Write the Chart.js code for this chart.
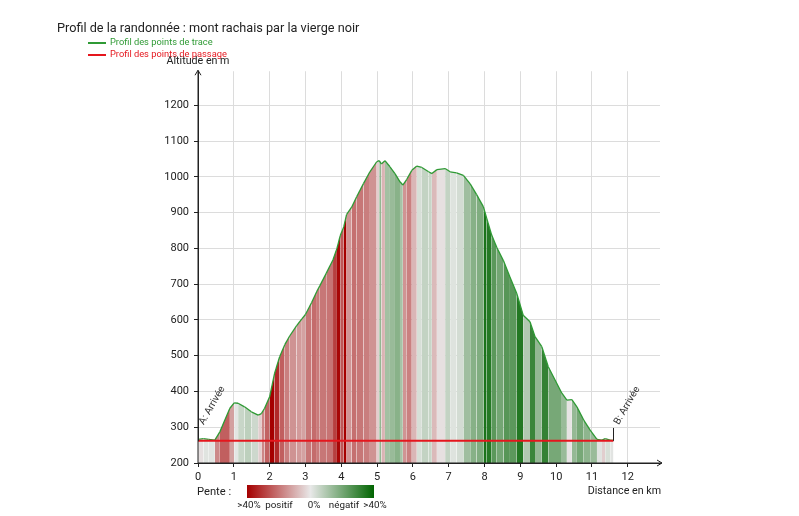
<!DOCTYPE html>
<html lang="fr">
<head>
<meta charset="utf-8">
<title>Profil de la randonnée</title>
<script src="https://cdn.jsdelivr.net/npm/chart.js@4.4.1/dist/chart.umd.min.js"></script>
<style>
  html, body { margin: 0; padding: 0; background: #fff; }
  #profil { display: block; }
</style>
</head>
<body>
<canvas id="profil" width="799" height="516"></canvas>
<script>
// Profil altimétrique de la randonnée

// =====================================================
// DONNÉES
// =====================================================
const distancesKm = [
  0.00, 0.15, 0.30, 0.47, 0.61, 0.75, 0.89, 1.01, 1.12, 1.30,
  1.49, 1.68, 1.77, 1.86, 2.00, 2.14, 2.28, 2.42, 2.56, 2.75,
  2.90, 3.00, 3.17, 3.32, 3.40, 3.58, 3.77, 3.88, 3.97, 4.07,
  4.15, 4.29, 4.43, 4.62, 4.80, 4.99, 5.06, 5.12, 5.22, 5.36,
  5.50, 5.64, 5.72, 5.83, 5.97, 6.11, 6.25, 6.44, 6.53, 6.67,
  6.90, 7.04, 7.22, 7.41, 7.60, 7.78, 7.97, 8.06, 8.20, 8.34,
  8.53, 8.71, 8.90, 9.08, 9.27, 9.41, 9.60, 9.78, 9.97, 10.16,
  10.30, 10.44, 10.58, 10.77, 10.95, 11.14, 11.28, 11.37, 11.51, 11.60,
];
const altitudesM = [
  266, 268, 266, 264, 287, 320, 353, 368, 367, 357,
  343, 334, 338, 353, 385, 451, 497, 530, 555, 583,
  603, 615, 648, 680, 695, 730, 768, 800, 835, 860,
  895, 915, 944, 981, 1014, 1042, 1045, 1036, 1045, 1028,
  1009, 986, 977, 993, 1018, 1030, 1026, 1014, 1009, 1020,
  1023, 1014, 1011, 1004, 980, 950, 916, 884, 837, 803,
  765, 720, 674, 613, 595, 553, 525, 469, 432, 395,
  376, 377, 357, 320, 292, 266, 264, 268, 264, 263,
];

// Points de passage : départ A et arrivée B
const passageKm = [0, 11.6];
const passageM = [262, 262];

const ticksX = [0, 1, 2, 3, 4, 5, 6, 7, 8, 9, 10, 11, 12];
const ticksY = [200, 300, 400, 500, 600, 700, 800, 900, 1000, 1100, 1200];
const bornesX = [0, 12.9];
const bornesY = [200, 1295];

const titre = 'Profil de la randonnée : mont rachais par la vierge noir';
const legendes = ['Profil des points de trace', 'Profil des points de passage'];
const reperes = ['A: Arrivée', 'B: Arrivée'];
const titresAxes = ['Altitude en m', 'Distance en km'];
const legendePente = ['>40%', 'positif', '0%', 'négatif', '>40%'];

// =====================================================
// COULEURS
// =====================================================
const VERT_TRACE = '#2f9a35';
const ROUGE_PASSAGE = '#e5161d';
const ROUGE_FONCE = [165, 0, 0];
const GRIS_NEUTRE = [232, 232, 232];
const VERT_FONCE = [0, 100, 0];
const PENTE_MAX = 40; // %

function melange(a, b, t) {
  const c = a.map((v, i) => Math.round(v + (b[i] - v) * t));
  return `rgb(${c[0]}, ${c[1]}, ${c[2]})`;
}

function couleurPente(pente) {
  const t = Math.min(Math.abs(pente) / PENTE_MAX, 1);
  return melange(GRIS_NEUTRE, pente >= 0 ? ROUGE_FONCE : VERT_FONCE, t);
}

// couleur d'un segment selon la pente entre ses deux points
function couleurSegment(ctx) {
  const dx = (ctx.p1.parsed.x - ctx.p0.parsed.x) * 1000;
  const dy = ctx.p1.parsed.y - ctx.p0.parsed.y;
  return couleurPente(dx > 0 ? (dy / dx) * 100 : 0);
}

// =====================================================
// DÉCOR : axes fléchés, légendes, repères, échelle de pente
// =====================================================
const decor = {
  id: 'decor',
  afterDraw(chart) {
    const { ctx, chartArea: a, scales: { x, y } } = chart;
    ctx.save();

    // axes + flèches
    ctx.strokeStyle = '#222';
    ctx.lineWidth = 1;
    ctx.beginPath();
    ctx.moveTo(a.left, a.bottom); ctx.lineTo(a.left, a.top - 1);
    ctx.moveTo(a.left - 3, a.top + 4); ctx.lineTo(a.left, a.top - 1); ctx.lineTo(a.left + 3, a.top + 4);
    ctx.moveTo(a.left, a.bottom); ctx.lineTo(a.right + 2, a.bottom);
    ctx.moveTo(a.right - 3, a.bottom - 3); ctx.lineTo(a.right + 2, a.bottom); ctx.lineTo(a.right - 3, a.bottom + 3);
    ctx.stroke();

    // légende des profils
    ctx.font = '9.3px Roboto';
    ctx.textBaseline = 'middle';
    ctx.textAlign = 'left';
    [[VERT_TRACE, 43], [ROUGE_PASSAGE, 55]].forEach(([couleur, ly], i) => {
      ctx.strokeStyle = couleur;
      ctx.lineWidth = 2;
      ctx.beginPath(); ctx.moveTo(88, ly); ctx.lineTo(106, ly); ctx.stroke();
      ctx.fillStyle = couleur;
      ctx.fillText(legendes[i], 110, ly);
    });

    // titres des axes
    ctx.fillStyle = '#222';
    ctx.font = '10.7px Roboto';
    ctx.textAlign = 'center';
    ctx.fillText(titresAxes[0], a.left, 61);
    ctx.textAlign = 'right';
    ctx.fillText(titresAxes[1], a.right + 1, 491);

    // repères A / B
    ctx.strokeStyle = '#222';
    ctx.lineWidth = 1;
    ctx.font = '10px Roboto';
    ctx.textAlign = 'left';
    passageKm.forEach((km, i) => {
      const px = Math.round(x.getPixelForValue(km)) + 0.5;
      const bas = y.getPixelForValue(passageM[i]);
      const haut = y.getPixelForValue(passageM[i] + 36);
      ctx.beginPath(); ctx.moveTo(px, bas); ctx.lineTo(px, haut); ctx.stroke();
      ctx.save();
      ctx.translate(px + 3, haut - 4);
      ctx.rotate(-Math.PI / 3);
      ctx.fillStyle = '#333';
      ctx.fillText(reperes[i], 0, 0);
      ctx.restore();
    });

    // échelle de pente
    ctx.fillStyle = '#222';
    ctx.font = '11.2px Roboto';
    ctx.fillText('Pente :', 197, 492);
    const g = ctx.createLinearGradient(247, 0, 374, 0);
    g.addColorStop(0, couleurPente(PENTE_MAX));
    g.addColorStop(0.5, couleurPente(0));
    g.addColorStop(1, couleurPente(-PENTE_MAX));
    ctx.fillStyle = g;
    ctx.fillRect(247, 485, 127, 13);
    ctx.fillStyle = '#222';
    ctx.font = '9.8px Roboto';
    ctx.textAlign = 'center';
    [249, 279, 314, 344, 375].forEach((cx, i) => ctx.fillText(legendePente[i], cx, 506));

    ctx.restore();
  },
};

// =====================================================
// GRAPHIQUE
// =====================================================
Chart.defaults.font.family = 'Roboto';
Chart.defaults.color = '#222';

new Chart(document.getElementById('profil'), {
  type: 'line',
  data: {
    datasets: [
      {
        label: legendes[1],
        data: passageKm.map((km, i) => ({ x: km, y: passageM[i] })),
        borderColor: ROUGE_PASSAGE,
        borderWidth: 2,
        pointRadius: 0,
        fill: false,
      },
      {
        label: legendes[0],
        data: distancesKm.map((km, i) => ({ x: km, y: altitudesM[i] })),
        borderColor: VERT_TRACE,
        borderWidth: 1.3,
        pointRadius: 0,
        tension: 0,
        fill: { target: { value: bornesY[0] } },
        backgroundColor: couleurPente(0),
        segment: { backgroundColor: couleurSegment },
      },
    ],
  },
  options: {
    responsive: false,
    animation: false,
    events: [],
    layout: { padding: { left: 57, right: 139, top: 0, bottom: 0 } },
    plugins: {
      legend: { display: false },
      tooltip: { enabled: false },
      title: {
        display: true,
        text: titre,
        align: 'start',
        color: '#222',
        font: { size: 12.7, weight: 'normal' },
        padding: { top: 21, bottom: 35 },
      },
    },
    scales: {
      x: {
        type: 'linear',
        min: bornesX[0],
        max: bornesX[1],
        afterBuildTicks: (axe) => { axe.ticks = ticksX.map((v) => ({ value: v })); },
        afterFit: (axe) => { axe.height = 53; },
        grid: { color: '#dcdcdc', tickColor: '#222', tickLength: 4 },
        border: { display: true, color: '#222' },
        ticks: { color: '#222', font: { size: 11 }, padding: 4, maxRotation: 0, callback: (v) => String(v) },
      },
      y: {
        type: 'linear',
        min: bornesY[0],
        max: bornesY[1],
        afterBuildTicks: (axe) => { axe.ticks = ticksY.map((v) => ({ value: v })); },
        afterFit: (axe) => { axe.width = 141; },
        grid: { color: '#dcdcdc', tickColor: '#222', tickLength: 4 },
        border: { display: true, color: '#222' },
        ticks: { color: '#222', font: { size: 11 }, padding: 5, callback: (v) => String(v) },
      },
    },
  },
  plugins: [decor],
});
</script>
</body>
</html>
